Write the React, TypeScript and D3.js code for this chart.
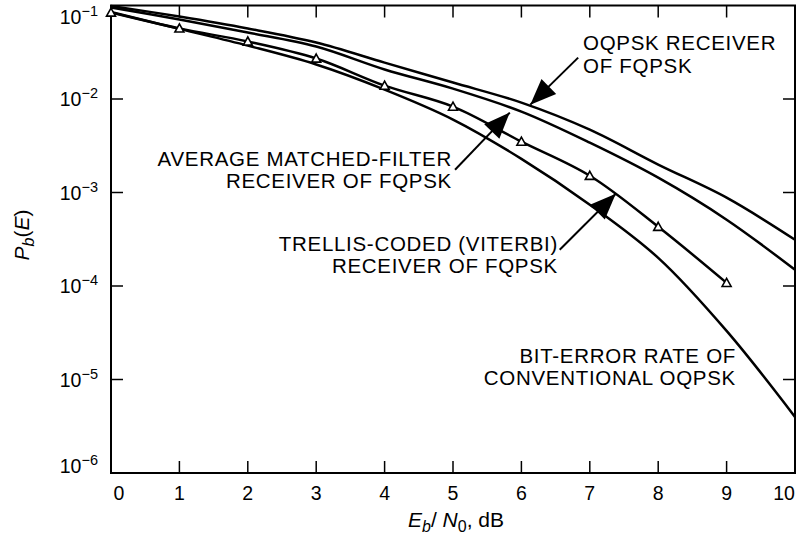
import React from 'react';
import * as d3 from 'd3';

// Eb/N0 in dB
const ebn0 = [0, 1, 2, 3, 4, 5, 6, 7, 8, 9, 10];
// OQPSK receiver of FQPSK
const oqpskRx = [0.099, 0.0762, 0.0568, 0.0402, 0.0245, 0.015, 0.00915, 0.0047, 0.00199, 0.00088, 0.000312];
// average matched-filter receiver of FQPSK
const avgMf = [0.0952, 0.0708, 0.0514, 0.0364, 0.0207, 0.0129, 0.00733, 0.00341, 0.00144, 0.000512, 0.000149];
// trellis-coded (Viterbi) receiver, points at 0..9 dB
const trellisX = [0, 1, 2, 3, 4, 5, 6, 7, 8, 9];
const trellis = [0.0841, 0.0568, 0.0412, 0.0271, 0.0139, 0.00829, 0.0035, 0.00151, 0.00043, 0.000108];
// conventional OQPSK bit-error rate
const conventional = [0.0851, 0.0562, 0.0372, 0.0234, 0.0126, 0.00603, 0.00229, 0.000741, 0.0002, 3.31e-5, 3.98e-6];

const xTicks = [0, 1, 2, 3, 4, 5, 6, 7, 8, 9, 10];
const yExps = [-1, -2, -3, -4, -5, -6];

const W = 799;
const H = 552;
const margin = { top: 5.5, right: 4, bottom: 79, left: 111 };
const font = '"Liberation Sans", Arial, Helvetica, sans-serif';

const App = () => {
  const x = d3.scaleLinear().domain([0, 10]).range([margin.left, W - margin.right]);
  const y = d3.scaleLog().domain([1e-6, 1e-1]).range([H - margin.bottom, margin.top]);

  const line = d3
    .line<[number, number]>()
    .x(d => x(d[0]))
    .y(d => y(d[1]))
    .curve(d3.curveCatmullRom);

  const series = [oqpskRx, avgMf, conventional].map(v => ebn0.map((e, i) => [e, v[i]] as [number, number]));
  const trellisPts = trellisX.map((e, i) => [e, trellis[i]] as [number, number]);

  // arrows: tail -> tip, in data coords
  const arrows = [
    { from: [6.83, 0.0277], to: [6.13, 0.0087] },
    { from: [5.03, 0.00175], to: [5.83, 0.00715] },
    { from: [6.56, 0.000244], to: [7.38, 0.00097] },
  ];

  const x0 = x(0), x1 = x(10), yTop = y(1e-1), yBot = y(1e-6);
  const tl = 12;

  const arrowHead = (fx: number, fy: number, tx: number, ty: number) => {
    const len = 26, hw = 10.5;
    const dx = tx - fx, dy = ty - fy;
    const d = Math.hypot(dx, dy);
    const ux = dx / d, uy = dy / d;
    const bx = tx - ux * len, by = ty - uy * len;
    return `${tx},${ty} ${bx - uy * hw},${by + ux * hw} ${bx + uy * hw},${by - ux * hw}`;
  };

  const tri = (cx: number, cy: number) => {
    const s = 4.5;
    return `${cx},${cy - s} ${cx + s},${cy + s * 0.8} ${cx - s},${cy + s * 0.8}`;
  };

  return (
    <svg
      width={W}
      height={H}
      style={{ position: 'absolute', left: 0, top: 0, display: 'block', background: '#fff' }}
      fontFamily={font}
    >
      {/* frame */}
      <rect x={x0} y={yTop} width={x1 - x0} height={yBot - yTop} fill="none" stroke="#000" strokeWidth={2} />

      {/* x ticks top and bottom */}
      {xTicks.slice(1, -1).map(t => (
        <g key={'xt' + t}>
          <line x1={x(t)} x2={x(t)} y1={yBot} y2={yBot - tl} stroke="#000" strokeWidth={1.5} />
          <line x1={x(t)} x2={x(t)} y1={yTop} y2={yTop + tl} stroke="#000" strokeWidth={1.5} />
        </g>
      ))}
      {xTicks.map(t => (
        <text
          key={'xl' + t}
          x={Math.min(Math.max(x(t), 119), 784)}
          y={500}
          fontSize={19.5}
          textAnchor="middle"
        >
          {t}
        </text>
      ))}

      {/* y ticks left and right */}
      {yExps.slice(1, -1).map(e => (
        <g key={'yt' + e}>
          <line x1={x0} x2={x0 + tl} y1={y(10 ** e)} y2={y(10 ** e)} stroke="#000" strokeWidth={1.5} />
          <line x1={x1} x2={x1 - tl} y1={y(10 ** e)} y2={y(10 ** e)} stroke="#000" strokeWidth={1.5} />
        </g>
      ))}
      {yExps.map(e => {
        const cy = Math.min(Math.max(y(10 ** e), 17), 466);
        return (
          <text key={'yl' + e} x={98} y={cy + 7} fontSize={19.5} textAnchor="end">
            10
            <tspan fontSize={14.5} dy={-8}>
              {'\u2212' + Math.abs(e)}
            </tspan>
          </text>
        );
      })}

      {/* curves */}
      {series.map((s, i) => (
        <path key={'s' + i} d={line(s) || ''} fill="none" stroke="#000" strokeWidth={2.5} strokeLinejoin="round" />
      ))}
      <path d={line(trellisPts) || ''} fill="none" stroke="#000" strokeWidth={2.5} strokeLinejoin="round" />
      {trellisPts.map((p, i) => (
        <polygon key={'m' + i} points={tri(x(p[0]), y(p[1]))} fill="#fff" stroke="#000" strokeWidth={1.6} />
      ))}

      {/* arrows */}
      {arrows.map((a, i) => {
        const fx = x(a.from[0]), fy = y(a.from[1]), tx = x(a.to[0]), ty = y(a.to[1]);
        return (
          <g key={'a' + i}>
            <line x1={fx} y1={fy} x2={tx} y2={ty} stroke="#000" strokeWidth={2} />
            <polygon points={arrowHead(fx, fy, tx, ty)} fill="#000" />
          </g>
        );
      })}

      {/* annotations */}
      <g fontSize={20.5} letterSpacing={0.7}>
        <text x={583} y={50}>OQPSK RECEIVER</text>
        <text x={583} y={73}>OF FQPSK</text>
        <text x={452} y={166} textAnchor="end">AVERAGE MATCHED-FILTER</text>
        <text x={452} y={188} textAnchor="end">RECEIVER OF FQPSK</text>
        <text x={558} y={251} textAnchor="end">TRELLIS-CODED (VITERBI)</text>
        <text x={558} y={273} textAnchor="end">RECEIVER OF FQPSK</text>
        <text x={736} y={363} textAnchor="end">BIT-ERROR RATE OF</text>
        <text x={736} y={385} textAnchor="end">CONVENTIONAL OQPSK</text>
      </g>

      {/* axis titles */}
      <text x={456} y={527} fontSize={21} textAnchor="middle">
        <tspan fontStyle="italic">E</tspan>
        <tspan fontSize={16} fontStyle="italic" dy={5}>b</tspan>
        <tspan dy={-5}>/ </tspan>
        <tspan fontStyle="italic">N</tspan>
        <tspan fontSize={16} dy={5}>0</tspan>
        <tspan dy={-5}>, dB</tspan>
      </text>
      <text transform="translate(29,235) rotate(-90)" fontSize={21} textAnchor="middle">
        <tspan fontStyle="italic">P</tspan>
        <tspan fontSize={16} fontStyle="italic" dy={5}>b</tspan>
        <tspan dy={-5}>(</tspan>
        <tspan fontStyle="italic">E</tspan>
        <tspan>)</tspan>
      </text>
    </svg>
  );
};

export default App;
